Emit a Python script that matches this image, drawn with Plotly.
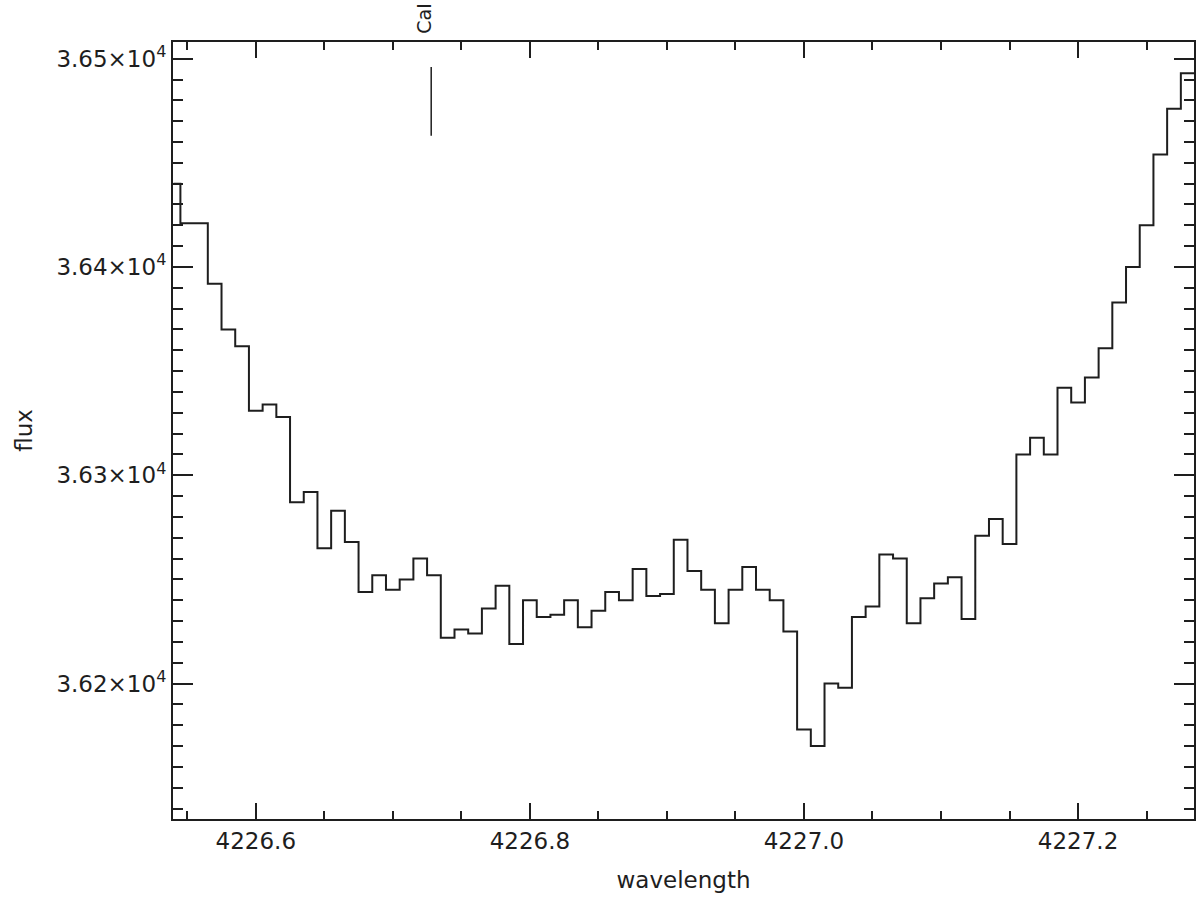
import plotly.graph_objects as go

wavelength = [
    4226.54, 4226.55, 4226.56, 4226.57, 4226.58, 4226.59, 4226.60, 4226.61, 4226.62, 4226.63,
    4226.64, 4226.65, 4226.66, 4226.67, 4226.68, 4226.69, 4226.70, 4226.71, 4226.72, 4226.73,
    4226.74, 4226.75, 4226.76, 4226.77, 4226.78, 4226.79, 4226.80, 4226.81, 4226.82, 4226.83,
    4226.84, 4226.85, 4226.86, 4226.87, 4226.88, 4226.89, 4226.90, 4226.91, 4226.92, 4226.93,
    4226.94, 4226.95, 4226.96, 4226.97, 4226.98, 4226.99, 4227.00, 4227.01, 4227.02, 4227.03,
    4227.04, 4227.05, 4227.06, 4227.07, 4227.08, 4227.09, 4227.10, 4227.11, 4227.12, 4227.13,
    4227.14, 4227.15, 4227.16, 4227.17, 4227.18, 4227.19, 4227.20, 4227.21, 4227.22, 4227.23,
    4227.24, 4227.25, 4227.26, 4227.27, 4227.28, 4227.29,
]
flux = [
    36440, 36421, 36421, 36392, 36370, 36362, 36331, 36334, 36328, 36287,
    36292, 36265, 36283, 36268, 36244, 36252, 36245, 36250, 36260, 36252,
    36222, 36226, 36224, 36236, 36247, 36219, 36240, 36232, 36233, 36240,
    36227, 36235, 36244, 36240, 36255, 36242, 36243, 36269, 36254, 36245,
    36229, 36245, 36256, 36245, 36240, 36225, 36178, 36170, 36200, 36198,
    36232, 36237, 36262, 36260, 36229, 36241, 36248, 36251, 36231, 36271,
    36279, 36267, 36310, 36318, 36310, 36342, 36335, 36347, 36361, 36383,
    36400, 36420, 36454, 36476, 36493, 36493,
]

# line identification marks
line_names = ["CaI"]
line_wl = [4226.728]
mark_bottom = 36463
mark_top = 36496

ytick_vals = [36200, 36300, 36400, 36500]
ytick_text = ["3.62\u00d710<sup>4</sup>", "3.63\u00d710<sup>4</sup>",
              "3.64\u00d710<sup>4</sup>", "3.65\u00d710<sup>4</sup>"]

X_RANGE = [4226.5396, 4227.2846]
Y_RANGE = [36135, 36508]

INK = "#1e1e1e"
FONT = "DejaVu Sans"

fig = go.Figure()

fig.add_trace(go.Scatter(
    x=wavelength, y=flux, mode="lines",
    line=dict(shape="hvh", color=INK, width=2),
    showlegend=False,
))

# marks drawn on the top/right axes (they match x/y) so those axes get rendered
for name, wl in zip(line_names, line_wl):
    fig.add_trace(go.Scatter(
        x=[wl, wl], y=[mark_bottom, mark_top], mode="lines",
        xaxis="x2", yaxis="y2",
        line=dict(color=INK, width=1.5), showlegend=False,
    ))
    fig.add_annotation(
        x=wl, xref="x", y=1, yref="paper", text=name, showarrow=False,
        textangle=-90, xanchor="center", yanchor="bottom", xshift=-8, yshift=6,
        font=dict(family=FONT, size=19, color=INK),
    )

tick_font = dict(family=FONT, size=23, color=INK)
line_style = dict(showline=True, linewidth=2, linecolor=INK, showgrid=False,
                  zeroline=False, automargin=False, ticks="inside",
                  tickwidth=2, tickcolor=INK)
x_ticks = dict(tick0=4226.6, dtick=0.2, ticklen=16,
               minor=dict(ticks="inside", tick0=4226.6, dtick=0.05,
                          ticklen=8, tickwidth=2, tickcolor=INK))
y_ticks = dict(tickmode="array", tickvals=ytick_vals, ticklen=20,
               minor=dict(ticks="inside", tick0=36200, dtick=10,
                          ticklen=10, tickwidth=2, tickcolor=INK))

fig.update_layout(
    width=1200, height=898,
    margin=dict(l=173, r=6, t=42, b=79),
    paper_bgcolor="white", plot_bgcolor="white",
    font=dict(family=FONT, color=INK),
    xaxis=dict(range=X_RANGE, tickformat=".1f", tickfont=tick_font,
               title=dict(text="wavelength", font=tick_font, standoff=19),
               **x_ticks, **line_style),
    yaxis=dict(range=Y_RANGE, ticktext=ytick_text, tickfont=tick_font,
               title=dict(text="flux", font=tick_font, standoff=17),
               **y_ticks, **line_style),
    xaxis2=dict(range=X_RANGE, matches="x", overlaying="x", side="top",
                anchor="y2", showticklabels=False, **x_ticks, **line_style),
    yaxis2=dict(range=Y_RANGE, matches="y", overlaying="y", side="right",
                anchor="x2", showticklabels=False, **y_ticks, **line_style),
)

# the page body has a default 8px margin; drop it so the figure sits at (0, 0)
fig.write_html("out.html", config={"displayModeBar": False},
               post_script="document.body.style.margin = '0';")
